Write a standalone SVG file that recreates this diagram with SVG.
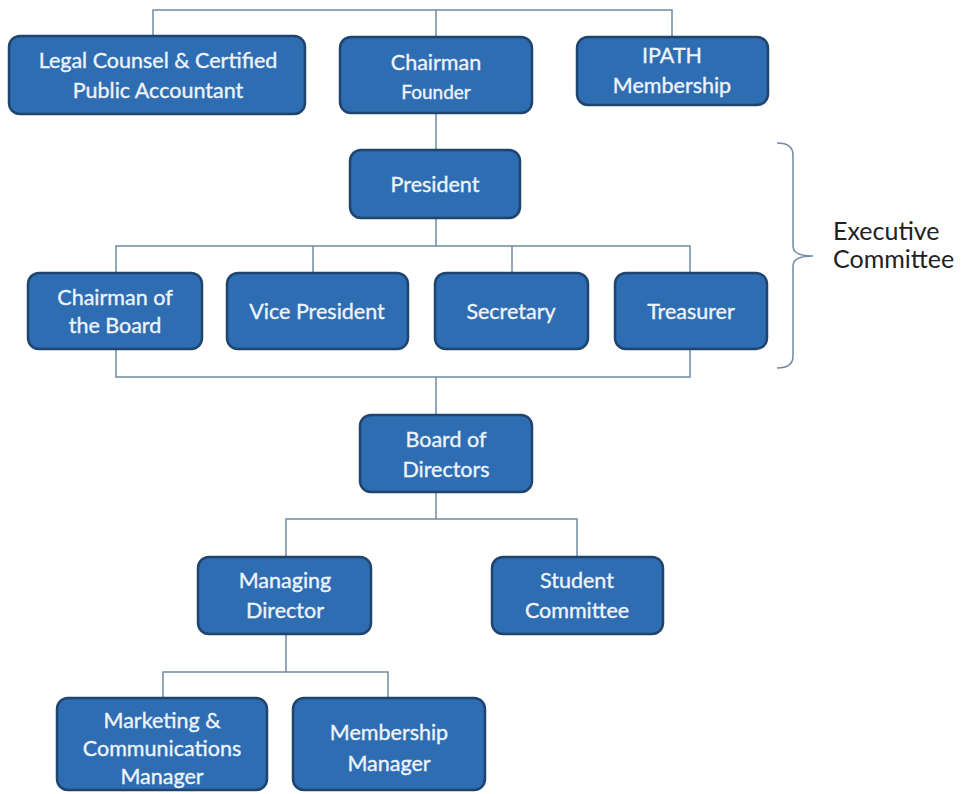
<svg xmlns="http://www.w3.org/2000/svg" width="967" height="794" viewBox="0 0 967 794">
  <style>
    .box { fill: #2f6db2; stroke: #1f446d; stroke-width: 2.5; }
    .t { font-family: Lato, "Open Sans", sans-serif; font-size: 21.5px; fill: #eef4fb; stroke: #eef4fb; stroke-width: 0.35; text-anchor: middle; }
    .s { font-size: 19px; }
    .wire { fill: none; stroke: #6f8aa3; stroke-width: 1.5; }
    .lbl { font-family: Lato, "Open Sans", sans-serif; font-size: 25px; fill: #222; }
  </style>
  <rect width="967" height="794" fill="#ffffff"/>

  <g id="connectors">
    <path class="wire" d="M153,36 V10 H672 V37"/>
    <path class="wire" d="M436,10 V37"/>
    <path class="wire" d="M436,113 V150"/>
    <path class="wire" d="M436,218 V246"/>
    <path class="wire" d="M116,273 V246 H690 V273"/>
    <path class="wire" d="M313,246 V273"/>
    <path class="wire" d="M512,246 V273"/>
    <path class="wire" d="M116,349 V377 H690 V349"/>
    <path class="wire" d="M436,377 V415"/>
    <path class="wire" d="M436,492 V519"/>
    <path class="wire" d="M286,557 V519 H577 V557"/>
    <path class="wire" d="M286,634 V672"/>
    <path class="wire" d="M163,698 V672 H388 V698"/>
  </g>

  <g id="legal">
    <rect class="box" x="9" y="36" width="296" height="78" rx="11"/>
    <text class="t" x="158" y="68">Legal Counsel  &amp; Certified</text>
    <text class="t" x="158" y="98">Public Accountant</text>
  </g>
  <g id="chairman">
    <rect class="box" x="340" y="37" width="192" height="76" rx="11"/>
    <text class="t" x="436" y="70">Chairman</text>
    <text class="t s" x="436" y="99">Founder</text>
  </g>
  <g id="ipath">
    <rect class="box" x="577" y="37" width="191" height="68" rx="11"/>
    <text class="t" x="672" y="63">IPATH</text>
    <text class="t" x="672" y="93">Membership</text>
  </g>
  <g id="president">
    <rect class="box" x="350" y="150" width="170" height="68" rx="11"/>
    <text class="t" x="435" y="192">President</text>
  </g>
  <g id="chairman-board">
    <rect class="box" x="28" y="273" width="174" height="76" rx="11"/>
    <text class="t" x="115" y="305">Chairman of</text>
    <text class="t" x="115" y="333">the Board</text>
  </g>
  <g id="vice-president">
    <rect class="box" x="227" y="273" width="181" height="76" rx="11"/>
    <text class="t" x="317" y="319">Vice President</text>
  </g>
  <g id="secretary">
    <rect class="box" x="435" y="273" width="153" height="76" rx="11"/>
    <text class="t" x="511" y="319">Secretary</text>
  </g>
  <g id="treasurer">
    <rect class="box" x="615" y="273" width="152" height="76" rx="11"/>
    <text class="t" x="691" y="319">Treasurer</text>
  </g>
  <g id="board-of-directors">
    <rect class="box" x="360" y="415" width="172" height="77" rx="11"/>
    <text class="t" x="446" y="447">Board of</text>
    <text class="t" x="446" y="477">Directors</text>
  </g>
  <g id="managing-director">
    <rect class="box" x="198" y="557" width="173" height="77" rx="11"/>
    <text class="t" x="285" y="588">Managing</text>
    <text class="t" x="285" y="618">Director</text>
  </g>
  <g id="student-committee">
    <rect class="box" x="492" y="557" width="171" height="77" rx="11"/>
    <text class="t" x="577" y="588">Student</text>
    <text class="t" x="577" y="618">Committee</text>
  </g>
  <g id="marketing">
    <rect class="box" x="57" y="698" width="210" height="92" rx="11"/>
    <text class="t" x="162" y="728">Marketing &amp;</text>
    <text class="t" x="162" y="756">Communications</text>
    <text class="t" x="162" y="784">Manager</text>
  </g>
  <g id="membership-manager">
    <rect class="box" x="293" y="698" width="192" height="92" rx="11"/>
    <text class="t" x="389" y="740">Membership</text>
    <text class="t" x="389" y="771">Manager</text>
  </g>

  <g id="executive-committee">
    <path class="wire" d="M777,143 Q793,143 793,155 V246 Q793,256 813,256 Q793,256 793,266 V356 Q793,368 777,368"/>
    <text class="lbl" x="833" y="240">Executive</text>
    <text class="lbl" x="833" y="268">Committee</text>
  </g>
</svg>
